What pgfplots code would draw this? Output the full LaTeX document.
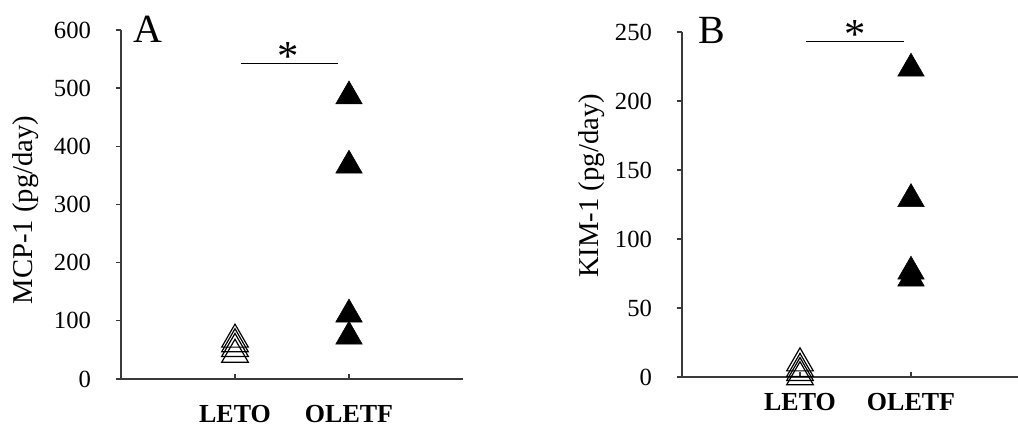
\documentclass[border=0pt]{standalone}
\usepackage{fontspec}
\setmainfont{Liberation Serif}
\usepackage{pgfplots}
\pgfplotsset{compat=1.18}
\definecolor{axgray}{HTML}{3A3A3A}
\pgfplotsset{
  panel/.style={
    scale only axis,
    axis x line*=bottom, axis y line*=left,
    axis line style={axgray, line width=1.3pt},
    every tick/.style={axgray, line width=1pt},
    xtick={1,2}, xticklabels={LETO,OLETF},
    xtick align=inside, ytick align=outside,
    major tick length=4pt,
    /pgf/number format/assume math mode=true,
    yticklabel style={font=\fontsize{18.5}{20}\selectfont, xshift=-15pt},
    xticklabel style={font=\fontsize{19.5}{21}\selectfont\bfseries},
    ylabel style={font=\fontsize{21.5}{23}\selectfont, anchor=center, rotate=0},
    clip=false,
  },
  leto/.style={only marks, mark=triangle, mark size=11.5pt, mark options={draw=black, line width=0.9pt, fill=none}},
  oletf/.style={only marks, mark=triangle*, mark size=11.5pt, mark options={draw=black, fill=black}},
}
\begin{document}
\begin{tikzpicture}
\useasboundingbox (0,0) rectangle (763.5pt,320.25pt);
% Panel A
\begin{axis}[panel,
  at={(90.75pt,36pt)}, anchor=south west,
  width=256.5pt, height=261.75pt,
  xmin=0, xmax=3, ymin=0, ymax=600,
  ytick={0,100,...,600},
  xticklabel style={yshift=-16pt},
  ylabel={MCP-1 (pg/day)},
  ylabel style={at={(axis description cs:-0.28,0.484)}},
]
\addplot[leto] coordinates {(1,42) (1,52) (1,60) (1,68)};
\addplot[oletf] coordinates {(2,486) (2,367) (2,111) (2,73)};
\draw[black, line width=0.8pt] (axis cs:1.05,543) -- (axis cs:1.90,543);
\node[font=\fontsize{32}{34}\selectfont, inner sep=0pt] at (axis cs:1.47,554) {*};
\node[font=\fontsize{30}{32}\selectfont, anchor=base, inner sep=0pt] at (axis description cs:0.078,0.963) {A};
\end{axis}
% Panel B
\begin{axis}[panel,
  at={(511.5pt,37.5pt)}, anchor=south west,
  width=252pt, height=258.75pt,
  xmin=-0.063, xmax=2.964, ymin=0, ymax=250,
  ytick={0,50,...,250},
  xticklabel style={yshift=-9pt},
  ylabel={KIM-1 (pg/day)},
  ylabel style={at={(axis description cs:-0.27,0.554)}},
]
\addplot[leto] coordinates {(1,0) (1,3) (1,6) (1,10)};
\addplot[oletf] coordinates {(2,223.5) (2,129) (2,76.4) (2,71.4)};
\draw[black, line width=0.8pt] (axis cs:1.054,242.8) -- (axis cs:1.937,242.8);
\node[font=\fontsize{32}{34}\selectfont, inner sep=0pt] at (axis cs:1.5,248.5) {*};
\node[font=\fontsize{30}{32}\selectfont, anchor=base, inner sep=0pt] at (axis description cs:0.09,0.968) {B};
\end{axis}
\end{tikzpicture}
\end{document}
